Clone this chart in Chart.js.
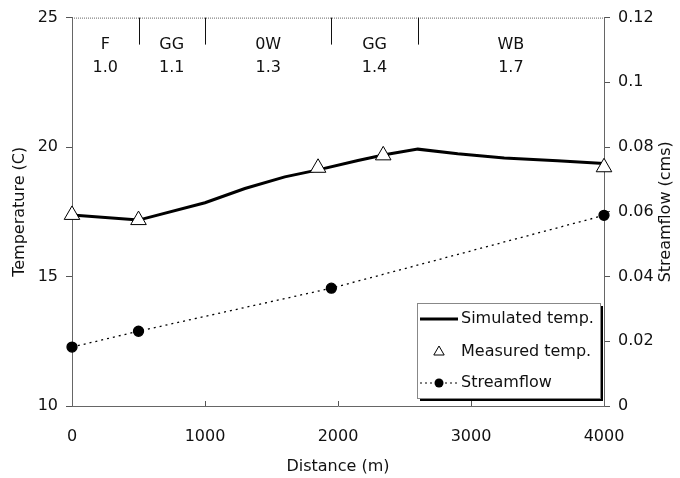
<!DOCTYPE html>
<html>
<head>
<meta charset="utf-8">
<script src="https://cdn.jsdelivr.net/npm/chart.js@4"></script>
<style>
  html, body { margin: 0; padding: 0; background: #fff; }
  #wrap { width: 680px; height: 478px; }
</style>
</head>
<body>
<div id="wrap"><canvas id="myChart" width="680" height="478"></canvas></div>
<script>
// data
const simDist = [0, 500, 1000, 1300, 1600, 1850, 2150, 2350, 2600, 2900, 3250, 3650, 4000];
const simTemp = [17.38, 17.18, 17.85, 18.4, 18.85, 19.12, 19.48, 19.7, 19.92, 19.74, 19.58, 19.47, 19.37];
const measDist = [0, 500, 1850, 2340, 4000];
const measTemp = [17.38, 17.18, 19.2, 19.68, 19.22];
const flowDist = [0, 500, 1950, 4000];
const flowCms = [0.0182, 0.0231, 0.0364, 0.0589];

const segBounds = [0, 500, 1000, 1950, 2600, 4000];
const segNames = ["F", "GG", "0W", "GG", "WB"];
const segValues = ["1.0", "1.1", "1.3", "1.4", "1.7"];

const distTicks = [0, 1000, 2000, 3000, 4000];
const tempTicks = [10, 15, 20, 25];
const flowTicks = [0, 0.02, 0.04, 0.06, 0.08, 0.1, 0.12];

const FONT = "'DejaVu Sans', sans-serif";
const axisColor = "#666";

// top segments, frame top, right title, legend
const extras = {
  id: "extras",
  afterDraw(chart) {
    const ctx = chart.ctx;
    const x = chart.scales.x;
    const a = chart.chartArea;
    ctx.save();
    // top border (dotted like the others)
    ctx.strokeStyle = axisColor;
    ctx.lineWidth = 1;
    ctx.setLineDash([1, 1]);
    ctx.beginPath();
    ctx.moveTo(a.left, a.top + 0.5);
    ctx.lineTo(a.right, a.top + 0.5);
    ctx.stroke();
    ctx.setLineDash([]);
    // small inner ticks on the distance axis
    ctx.strokeStyle = "#555";
    distTicks.slice(1, -1).forEach(v => {
      const px = Math.round(x.getPixelForValue(v)) + 0.5;
      ctx.beginPath();
      ctx.moveTo(px, a.bottom);
      ctx.lineTo(px, a.bottom - 5);
      ctx.stroke();
    });
    // segment dividers
    ctx.strokeStyle = "#111";
    segBounds.slice(1, -1).forEach(v => {
      const px = Math.round(x.getPixelForValue(v)) + 0.5;
      ctx.beginPath();
      ctx.moveTo(px, a.top);
      ctx.lineTo(px, a.top + 27);
      ctx.stroke();
    });
    ctx.fillStyle = "#111";
    ctx.font = "16px " + FONT;
    ctx.textAlign = "center";
    ctx.textBaseline = "middle";
    segNames.forEach((n, i) => {
      const cx = (x.getPixelForValue(segBounds[i]) + x.getPixelForValue(segBounds[i + 1])) / 2;
      ctx.fillText(n, cx, a.top + 27);
      ctx.fillText(segValues[i], cx, a.top + 50);
    });
    // right axis title, reading upward
    ctx.translate(666, (a.top + a.bottom) / 2);
    ctx.rotate(-Math.PI / 2);
    ctx.fillText("Streamflow (cms)", 0, 0);
    ctx.setTransform(1, 0, 0, 1, 0, 0);

    // legend
    const lx = 417, ly = 303, lw = 183, lh = 95;
    ctx.fillStyle = "#000";
    ctx.fillRect(lx + 3, ly + 3, lw, lh);
    ctx.fillStyle = "#fff";
    ctx.fillRect(lx, ly, lw, lh);
    ctx.strokeStyle = "#888";
    ctx.strokeRect(lx + 0.5, ly + 0.5, lw, lh);
    const ds = chart.data.datasets;
    const rows = [ly + 16, ly + 49, ly + 80];
    ctx.textAlign = "left";
    ctx.fillStyle = "#111";
    ds.forEach((d, i) => ctx.fillText(d.label, lx + 44, rows[i]));
    // simulated
    ctx.strokeStyle = "#000";
    ctx.lineWidth = 3;
    ctx.beginPath();
    ctx.moveTo(lx + 3, rows[0]);
    ctx.lineTo(lx + 41, rows[0]);
    ctx.stroke();
    // measured
    ctx.lineWidth = 1;
    ctx.fillStyle = "#fff";
    ctx.strokeStyle = "#000";
    Chart.helpers.drawPoint(ctx, { pointStyle: "triangle", radius: 6, borderWidth: 1 }, lx + 22, rows[1]);
    // streamflow
    ctx.setLineDash([2, 3]);
    ctx.beginPath();
    ctx.moveTo(lx + 3, rows[2]);
    ctx.lineTo(lx + 41, rows[2]);
    ctx.stroke();
    ctx.setLineDash([]);
    ctx.fillStyle = "#000";
    ctx.beginPath();
    ctx.arc(lx + 22, rows[2], 4.5, 0, Math.PI * 2);
    ctx.fill();
    ctx.restore();
  }
};

const ctx = document.getElementById("myChart");
new Chart(ctx, {
  type: "scatter",
  plugins: [extras],
  data: {
    datasets: [
      {
        label: "Simulated temp.",
        data: simDist.map((d, i) => ({ x: d, y: simTemp[i] })),
        showLine: true,
        borderColor: "#000",
        borderWidth: 3,
        pointRadius: 0,
        clip: false,
        yAxisID: "y",
        order: 2
      },
      {
        label: "Measured temp.",
        data: measDist.map((d, i) => ({ x: d, y: measTemp[i] })),
        showLine: false,
        pointStyle: "triangle",
        pointRadius: 9,
        backgroundColor: "#fff",
        borderColor: "#000",
        borderWidth: 1,
        clip: false,
        yAxisID: "y",
        order: 1
      },
      {
        label: "Streamflow",
        data: flowDist.map((d, i) => ({ x: d, y: flowCms[i] })),
        showLine: true,
        borderColor: "#000",
        borderWidth: 1.3,
        borderDash: [2, 4],
        pointRadius: 5,
        pointBackgroundColor: "#000",
        pointBorderColor: "#000",
        clip: false,
        yAxisID: "y1",
        order: 3
      }
    ]
  },
  options: {
    responsive: false,
    animation: false,
    layout: { padding: { top: 17, left: 0, right: 0, bottom: 0 } },
    plugins: { legend: { display: false }, tooltip: { enabled: false } },
    scales: {
      x: {
        type: "linear",
        min: 0,
        max: 4000,
        afterBuildTicks: s => { s.ticks = distTicks.map(v => ({ value: v })); },
        afterFit: s => { s.height = 72; },
        grid: { drawOnChartArea: false, drawTicks: false, color: "#555" },
        border: { color: axisColor, dash: [1, 1] },
        ticks: { padding: 21, color: "#111", font: { family: FONT, size: 16 }, callback: v => String(v) },
        title: { display: true, text: "Distance (m)", color: "#111", font: { family: FONT, size: 16 }, padding: { top: 0, bottom: 2 } }
      },
      y: {
        position: "left",
        min: 10,
        max: 25,
        afterBuildTicks: s => { s.ticks = tempTicks.map(v => ({ value: v })); },
        afterFit: s => { s.width = 72; },
        grid: { drawOnChartArea: false, tickLength: 6, color: "#555" },
        border: { color: axisColor, dash: [1, 1] },
        ticks: { padding: 8, color: "#111", font: { family: FONT, size: 16 } },
        title: { display: true, text: "Temperature (C)", color: "#111", font: { family: FONT, size: 16 }, padding: { top: 10, bottom: 0 } }
      },
      y1: {
        position: "right",
        min: 0,
        max: 0.12,
        afterBuildTicks: s => { s.ticks = flowTicks.map(v => ({ value: v })); },
        afterFit: s => { s.width = 76; },
        grid: { drawOnChartArea: false, tickLength: 6, color: "#555" },
        border: { color: axisColor, dash: [1, 1] },
        ticks: {
          padding: 8,
          color: "#111",
          font: { family: FONT, size: 16 },
          callback: v => String(+v.toFixed(2))
        }
      }
    }
  }
});
</script>
</body>
</html>
